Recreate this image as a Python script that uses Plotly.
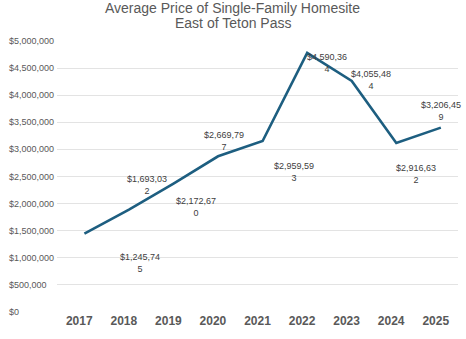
import plotly.graph_objects as go

# ---- data ----
years = [2017, 2018, 2019, 2020, 2021, 2022, 2023, 2024, 2025]
line_values = [1446000, 1889000, 2369000, 2873000, 3155000, 4779000, 4262000, 3118000, 3402000]
label_values = [1245745, 1693032, 2172670, 2669797, 2959593, 4590364, 4055484, 2916632, 3206459]
y_ticks = [0, 500000, 1000000, 1500000, 2000000, 2500000, 3000000, 3500000, 4000000, 4500000, 5000000]
title_lines = ["Average Price of Single-Family Homesite", "East of Teton Pass"]

# ---- label placement (positions, kept separate from data) ----
label_x = [2018.37, 2018.52, 2019.61, 2020.24, 2021.81, 2022.57, 2023.54, 2024.55, 2025.11]
label_y = [911000, 2351000, 1935000, 3159000, 2583000, 4585000, 4275000, 2555000, 3716000]
title_y = [1.1218, 1.0664]
LINE_SHIFT = 0.115

GRAY = "#595959"
LINE = "#1d5e80"
FONT = "Liberation Sans, Arial, sans-serif"

fig = go.Figure()
fig.add_trace(go.Scatter(
    x=[y + LINE_SHIFT for y in years], y=line_values, mode="lines",
    line=dict(color=LINE, width=2.6), hoverinfo="skip", showlegend=False,
))

annotations = []
for v, lx, ly in zip(label_values, label_x, label_y):
    s = f"${v:,}"
    annotations.append(dict(
        x=lx, y=ly, xref="x", yref="y", text=s[:9] + "<br>" + s[9:],
        showarrow=False, xanchor="center", yanchor="middle", align="center",
        font=dict(family=FONT, size=9, color="#404040"),
    ))
for t in y_ticks:
    annotations.append(dict(
        x=-0.124, y=t, xref="paper", yref="y", text=f"${t:,}",
        showarrow=False, xanchor="left", yanchor="middle",
        font=dict(family=FONT, size=9, color=GRAY),
    ))
for txt, ty in zip(title_lines, title_y):
    annotations.append(dict(
        x=0.438, y=ty, xref="paper", yref="paper", text=txt,
        showarrow=False, xanchor="center", yanchor="middle",
        font=dict(family=FONT, size=14, color=GRAY),
    ))

fig.update_layout(
    width=466, height=339,
    margin=dict(l=57, r=8, t=41, b=27),
    paper_bgcolor="white", plot_bgcolor="white",
    xaxis=dict(
        range=[2016.5, 2025.5], tickvals=years, ticktext=[str(y) for y in years],
        showgrid=False, zeroline=False, showline=False, ticks="",
        tickfont=dict(family=FONT, size=12, color=GRAY, weight="bold"),
    ),
    yaxis=dict(
        range=[0, 5000000], tickvals=y_ticks, showticklabels=False,
        showgrid=True, gridcolor="#e3e3e3", gridwidth=1, zeroline=False,
        showline=False, ticks="",
    ),
    annotations=annotations,
)

fig.write_html("out.html")
